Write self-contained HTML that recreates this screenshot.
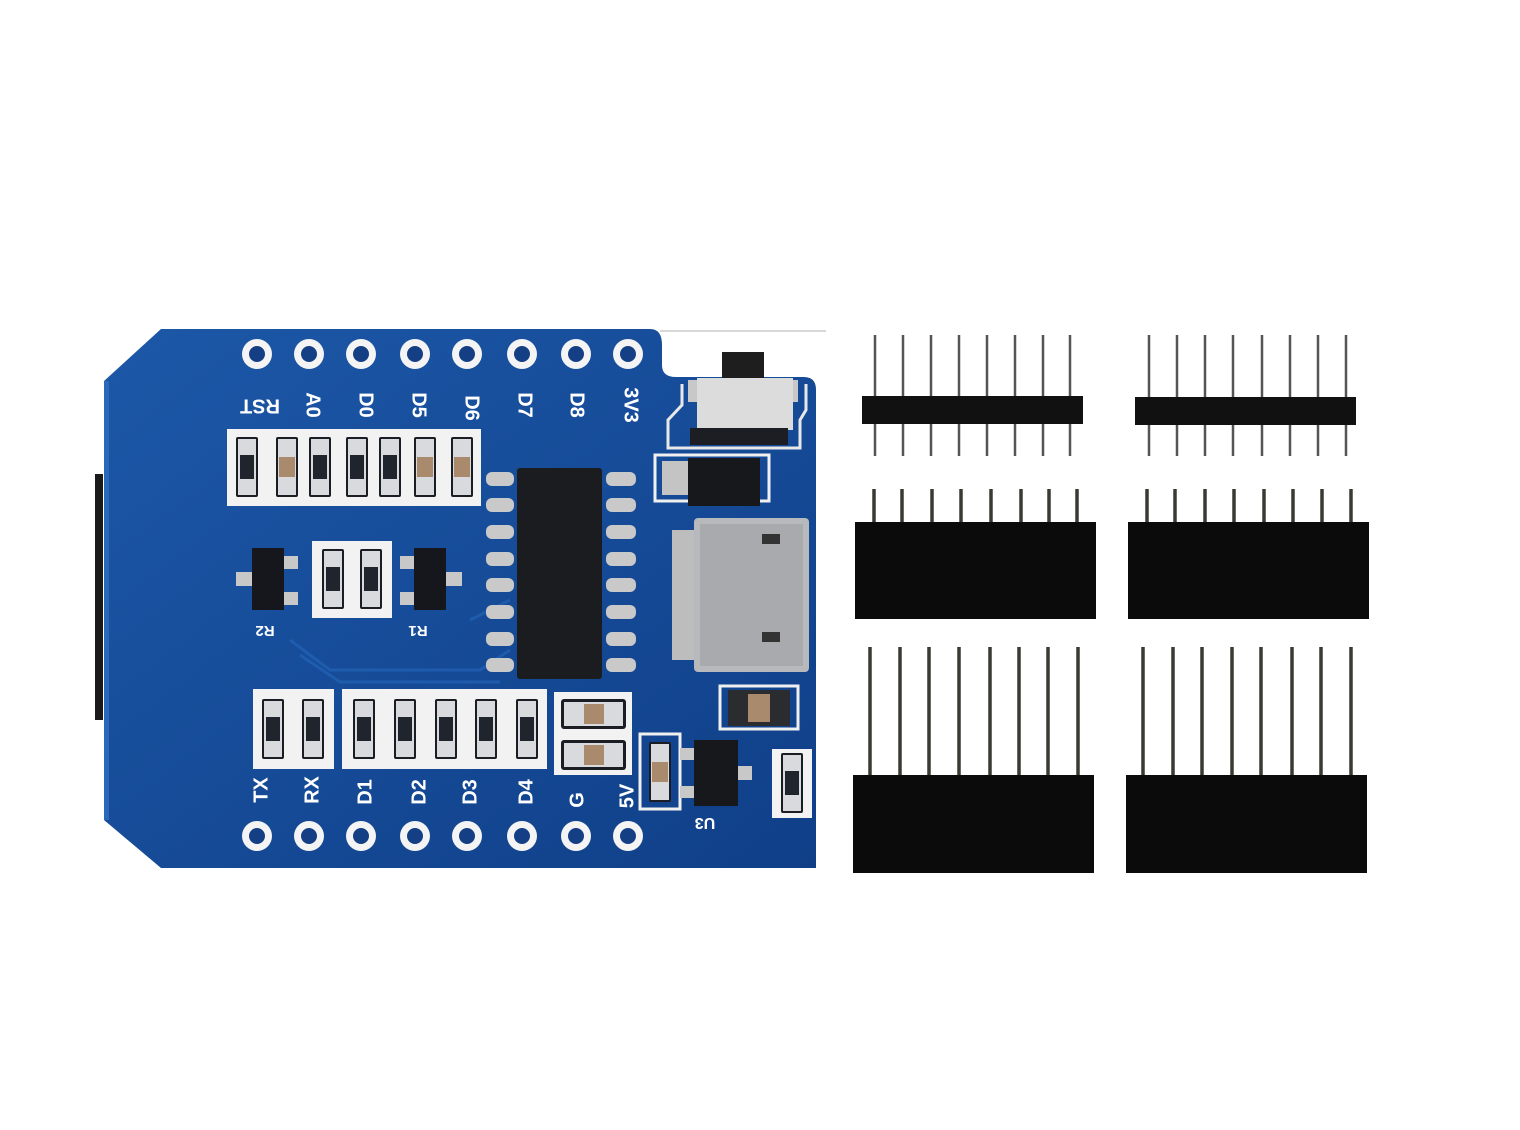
<!DOCTYPE html>
<html><head><meta charset="utf-8"><style>
html,body{margin:0;padding:0;background:#fff}
svg{display:block}
text{font-family:"Liberation Sans",sans-serif;font-weight:bold;fill:#fff}
</style></head><body>
<svg width="1520" height="1130" viewBox="0 0 1520 1130" xmlns="http://www.w3.org/2000/svg">
<defs>
<linearGradient id="bd" x1="0" y1="0" x2="1" y2="1">
<stop offset="0" stop-color="#1c58a8"/><stop offset="1" stop-color="#103f88"/>
</linearGradient>
<g id="res">
<rect x="-11" y="-30" width="22" height="60" rx="2" fill="#1a1d24"/>
<rect x="-9" y="-28" width="18" height="56" fill="#d8dade"/>
<rect x="-7" y="-12" width="14" height="24" fill="#20242c"/>
</g>
<g id="cap">
<rect x="-11" y="-30" width="22" height="60" rx="2" fill="#1a1d24"/>
<rect x="-9" y="-28" width="18" height="56" fill="#d8dade"/>
<rect x="-8" y="-10" width="16" height="20" fill="#a98a6c"/>
</g>
<g id="hole">
<circle r="15" fill="#f4f4f4"/><circle r="8" fill="#153f85"/>
</g>
</defs>
<rect width="1520" height="1130" fill="#fff"/>
<line x1="660" y1="331" x2="826" y2="331" stroke="#ccc" stroke-width="1.5"/>
<!-- board -->
<path d="M161,329 L650,329 Q662,329 662,345 L662,365 Q662,377 676,377 L804,377 Q816,377 816,390 L816,868 L161,868 L104,820 L104,381 Z" fill="url(#bd)"/>
<rect x="95" y="474" width="8" height="246" fill="#1a1a1a"/>
<rect x="104" y="381" width="5" height="439" fill="#2a68bb"/>
<!-- traces -->
<g stroke="#2160b2" stroke-width="3" fill="none" opacity="0.8">
<path d="M290,640 L330,670 L480,670 L510,650"/>
<path d="M300,655 L340,682 L500,682"/>
<path d="M470,620 L510,600"/>
</g>
<g>
<use href="#hole" x="257" y="354"/><use href="#hole" x="309" y="354"/><use href="#hole" x="361" y="354"/><use href="#hole" x="415" y="354"/>
<use href="#hole" x="467" y="354"/><use href="#hole" x="522" y="354"/><use href="#hole" x="576" y="354"/><use href="#hole" x="628" y="354"/>
<use href="#hole" x="257" y="836"/><use href="#hole" x="309" y="836"/><use href="#hole" x="361" y="836"/><use href="#hole" x="415" y="836"/>
<use href="#hole" x="467" y="836"/><use href="#hole" x="522" y="836"/><use href="#hole" x="576" y="836"/><use href="#hole" x="628" y="836"/>
</g>
<g font-size="20">
<text transform="translate(260,405) rotate(180)" text-anchor="middle" dominant-baseline="middle">RST</text>
<text transform="translate(312,405) rotate(90)" text-anchor="middle" dominant-baseline="middle">A0</text>
<text transform="translate(365,405) rotate(90)" text-anchor="middle" dominant-baseline="middle">D0</text>
<text transform="translate(418,405) rotate(90)" text-anchor="middle" dominant-baseline="middle">D5</text>
<text transform="translate(471,408) rotate(90)" text-anchor="middle" dominant-baseline="middle">D6</text>
<text transform="translate(524,405) rotate(90)" text-anchor="middle" dominant-baseline="middle">D7</text>
<text transform="translate(576,405) rotate(90)" text-anchor="middle" dominant-baseline="middle">D8</text>
<text transform="translate(630,405) rotate(90)" text-anchor="middle" dominant-baseline="middle">3V3</text>
</g>
<g font-size="20">
<text transform="translate(262,790) rotate(-90)" text-anchor="middle" dominant-baseline="middle">TX</text>
<text transform="translate(313,790) rotate(-90)" text-anchor="middle" dominant-baseline="middle">RX</text>
<text transform="translate(366,792) rotate(-90)" text-anchor="middle" dominant-baseline="middle">D1</text>
<text transform="translate(420,792) rotate(-90)" text-anchor="middle" dominant-baseline="middle">D2</text>
<text transform="translate(471,792) rotate(-90)" text-anchor="middle" dominant-baseline="middle">D3</text>
<text transform="translate(527,792) rotate(-90)" text-anchor="middle" dominant-baseline="middle">D4</text>
<text transform="translate(578,800) rotate(-90)" text-anchor="middle" dominant-baseline="middle">G</text>
<text transform="translate(628,796) rotate(-90)" text-anchor="middle" dominant-baseline="middle">5V</text>
<text transform="translate(705,822) rotate(180)" text-anchor="middle" dominant-baseline="middle" font-size="16">U3</text>
<text transform="translate(265,630) rotate(180)" text-anchor="middle" dominant-baseline="middle" font-size="15">R2</text>
<text transform="translate(418,630) rotate(180)" text-anchor="middle" dominant-baseline="middle" font-size="15">R1</text>
</g>
<rect x="227" y="429" width="254" height="77" fill="#f2f2f2"/>
<use href="#res" x="247" y="467"/><use href="#cap" x="287" y="467"/><use href="#res" x="320" y="467"/><use href="#res" x="357" y="467"/>
<use href="#res" x="390" y="467"/><use href="#cap" x="425" y="467"/><use href="#cap" x="462" y="467"/>
<rect x="312" y="541" width="80" height="77" fill="#f2f2f2"/>
<use href="#res" x="333" y="579"/><use href="#res" x="371" y="579"/>
<g>
<rect x="236" y="572" width="16" height="14" fill="#c8c8c8"/><rect x="284" y="556" width="14" height="13" fill="#c8c8c8"/><rect x="284" y="592" width="14" height="13" fill="#c8c8c8"/>
<rect x="252" y="548" width="32" height="62" fill="#15171c"/>
<rect x="400" y="556" width="14" height="13" fill="#c8c8c8"/><rect x="400" y="592" width="14" height="13" fill="#c8c8c8"/><rect x="446" y="572" width="16" height="14" fill="#c8c8c8"/>
<rect x="414" y="548" width="32" height="62" fill="#15171c"/>
</g>
<g fill="#c9c9c9">
<rect x="486" y="472" width="28" height="14" rx="6"/><rect x="486" y="498" width="28" height="14" rx="6"/><rect x="486" y="525" width="28" height="14" rx="6"/><rect x="486" y="552" width="28" height="14" rx="6"/>
<rect x="486" y="578" width="28" height="14" rx="6"/><rect x="486" y="605" width="28" height="14" rx="6"/><rect x="486" y="632" width="28" height="14" rx="6"/><rect x="486" y="658" width="28" height="14" rx="6"/>
<rect x="606" y="472" width="30" height="14" rx="6"/><rect x="606" y="498" width="30" height="14" rx="6"/><rect x="606" y="525" width="30" height="14" rx="6"/><rect x="606" y="552" width="30" height="14" rx="6"/>
<rect x="606" y="578" width="30" height="14" rx="6"/><rect x="606" y="605" width="30" height="14" rx="6"/><rect x="606" y="632" width="30" height="14" rx="6"/><rect x="606" y="658" width="30" height="14" rx="6"/>
</g>
<rect x="517" y="468" width="85" height="211" rx="3" fill="#1b1c20"/>
<rect x="253" y="689" width="81" height="80" fill="#f2f2f2"/>
<rect x="342" y="689" width="205" height="80" fill="#f2f2f2"/>
<use href="#res" x="273" y="729"/><use href="#res" x="313" y="729"/><use href="#res" x="364" y="729"/><use href="#res" x="405" y="729"/>
<use href="#res" x="446" y="729"/><use href="#res" x="486" y="729"/><use href="#res" x="527" y="729"/>
<rect x="554" y="692" width="78" height="83" fill="#f2f2f2"/>
<g>
<rect x="561" y="699" width="65" height="30" rx="3" fill="#1a1d24"/><rect x="564" y="702" width="59" height="24" fill="#d8dade"/><rect x="584" y="704" width="20" height="20" fill="#a98a6c"/>
<rect x="561" y="740" width="65" height="30" rx="3" fill="#1a1d24"/><rect x="564" y="743" width="59" height="24" fill="#d8dade"/><rect x="584" y="745" width="20" height="20" fill="#a98a6c"/>
</g>
<!-- switch -->
<rect x="722" y="352" width="42" height="26" fill="#1e1e1e"/>
<path d="M682,384 L682,405 L668,420 L668,448 L800,448 L800,420 L806,410 L806,384" fill="none" stroke="#e8e8e8" stroke-width="3"/>
<rect x="688" y="380" width="18" height="22" fill="#c8c8c8"/><rect x="784" y="380" width="14" height="22" fill="#c8c8c8"/>
<rect x="697" y="378" width="96" height="52" fill="#dcdcdc"/>
<rect x="690" y="428" width="98" height="17" fill="#1c1e24"/>
<!-- diode -->
<rect x="655" y="455" width="114" height="46" fill="none" stroke="#f0f0f0" stroke-width="3"/>
<rect x="662" y="461" width="28" height="34" fill="#c4c4c4"/>
<rect x="688" y="458" width="72" height="48" fill="#16181c"/>
<!-- USB -->
<rect x="672" y="530" width="24" height="130" fill="#bdbdbd"/>
<rect x="694" y="518" width="115" height="154" rx="4" fill="#b8b9bc"/>
<rect x="700" y="524" width="103" height="142" fill="#a9aaad"/>
<rect x="762" y="534" width="18" height="10" fill="#333"/><rect x="762" y="632" width="18" height="10" fill="#333"/>
<rect x="720" y="686" width="78" height="43" fill="none" stroke="#f0f0f0" stroke-width="3"/>
<rect x="728" y="690" width="62" height="36" fill="#2a2c30"/>
<rect x="748" y="694" width="22" height="28" fill="#a98a6c"/>
<rect x="640" y="734" width="40" height="75" fill="none" stroke="#f0f0f0" stroke-width="3"/>
<use href="#cap" x="660" y="772"/>
<rect x="680" y="748" width="14" height="12" fill="#c8c8c8"/><rect x="680" y="786" width="14" height="12" fill="#c8c8c8"/><rect x="738" y="766" width="14" height="14" fill="#c8c8c8"/>
<rect x="694" y="740" width="44" height="66" fill="#16181c"/>
<rect x="772" y="749" width="40" height="69" fill="#f2f2f2"/>
<use href="#res" x="792" y="783"/>
<g stroke="#555" stroke-width="2.5">
<line x1="875" y1="335" x2="875" y2="456"/><line x1="903" y1="335" x2="903" y2="456"/><line x1="931" y1="335" x2="931" y2="456"/><line x1="959" y1="335" x2="959" y2="456"/>
<line x1="987" y1="335" x2="987" y2="456"/><line x1="1015" y1="335" x2="1015" y2="456"/><line x1="1043" y1="335" x2="1043" y2="456"/><line x1="1070" y1="335" x2="1070" y2="456"/>
<line x1="1149" y1="335" x2="1149" y2="456"/><line x1="1177" y1="335" x2="1177" y2="456"/><line x1="1205" y1="335" x2="1205" y2="456"/><line x1="1233" y1="335" x2="1233" y2="456"/>
<line x1="1262" y1="335" x2="1262" y2="456"/><line x1="1290" y1="335" x2="1290" y2="456"/><line x1="1318" y1="335" x2="1318" y2="456"/><line x1="1346" y1="335" x2="1346" y2="456"/>
</g>
<rect x="862" y="396" width="221" height="28" fill="#111"/>
<rect x="1135" y="397" width="221" height="28" fill="#111"/>
<g stroke="#3a3a32" stroke-width="3.5">
<line x1="874" y1="489" x2="874" y2="522"/><line x1="902" y1="489" x2="902" y2="522"/><line x1="932" y1="489" x2="932" y2="522"/><line x1="961" y1="489" x2="961" y2="522"/>
<line x1="991" y1="489" x2="991" y2="522"/><line x1="1021" y1="489" x2="1021" y2="522"/><line x1="1049" y1="489" x2="1049" y2="522"/><line x1="1077" y1="489" x2="1077" y2="522"/>
<line x1="1147" y1="489" x2="1147" y2="522"/><line x1="1175" y1="489" x2="1175" y2="522"/><line x1="1205" y1="489" x2="1205" y2="522"/><line x1="1234" y1="489" x2="1234" y2="522"/>
<line x1="1264" y1="489" x2="1264" y2="522"/><line x1="1293" y1="489" x2="1293" y2="522"/><line x1="1322" y1="489" x2="1322" y2="522"/><line x1="1351" y1="489" x2="1351" y2="522"/>
<line x1="870" y1="647" x2="870" y2="775"/><line x1="900" y1="647" x2="900" y2="775"/><line x1="929" y1="647" x2="929" y2="775"/><line x1="959" y1="647" x2="959" y2="775"/>
<line x1="990" y1="647" x2="990" y2="775"/><line x1="1019" y1="647" x2="1019" y2="775"/><line x1="1048" y1="647" x2="1048" y2="775"/><line x1="1078" y1="647" x2="1078" y2="775"/>
<line x1="1143" y1="647" x2="1143" y2="775"/><line x1="1173" y1="647" x2="1173" y2="775"/><line x1="1202" y1="647" x2="1202" y2="775"/><line x1="1232" y1="647" x2="1232" y2="775"/>
<line x1="1261" y1="647" x2="1261" y2="775"/><line x1="1292" y1="647" x2="1292" y2="775"/><line x1="1321" y1="647" x2="1321" y2="775"/><line x1="1351" y1="647" x2="1351" y2="775"/>
</g>
<rect x="855" y="522" width="241" height="97" fill="#0b0b0b"/>
<rect x="1128" y="522" width="241" height="97" fill="#0b0b0b"/>
<rect x="853" y="775" width="241" height="98" fill="#0b0b0b"/>
<rect x="1126" y="775" width="241" height="98" fill="#0b0b0b"/>
</svg>
</body></html>
